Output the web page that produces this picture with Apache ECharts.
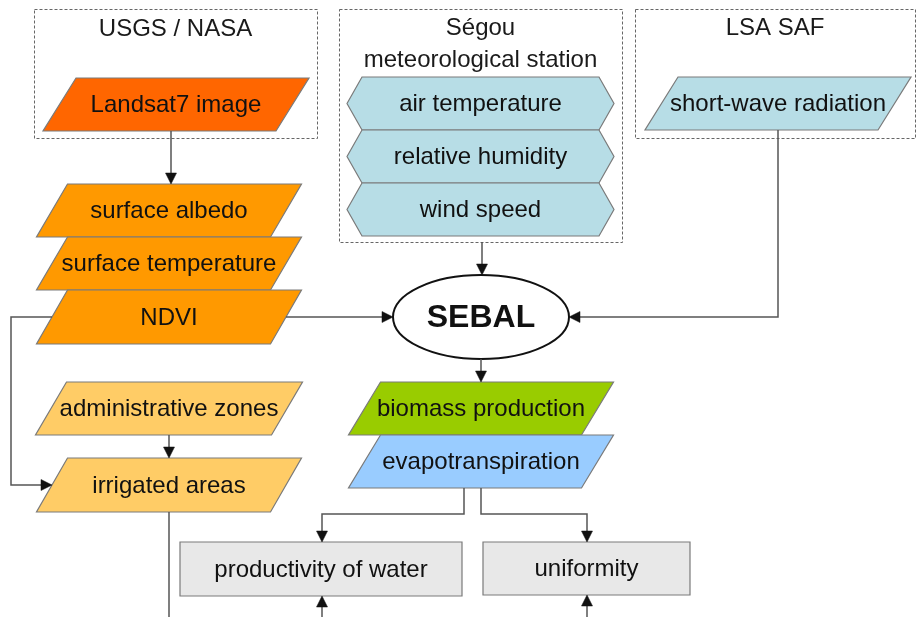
<!DOCTYPE html>
<html>
<head>
<meta charset="utf-8">
<script src="https://cdn.jsdelivr.net/npm/echarts@6/dist/echarts.min.js"></script>
<style>html,body{margin:0;padding:0;background:#fff;}#main{width:917px;height:617px;}</style>
</head>
<body>
<div id="main"></div>
<script>
// ---- data ----
const groupTitles = ['USGS / NASA', 'Ségou\nmeteorological station', 'LSA SAF'];
const nodeLabels = [
  'Landsat7 image', 'surface albedo', 'surface temperature', 'NDVI',
  'administrative zones', 'irrigated areas',
  'air temperature', 'relative humidity', 'wind speed',
  'short-wave radiation', 'SEBAL',
  'biomass production', 'evapotranspiration',
  'productivity of water', 'uniformity'
];
const nodeKinds = [
  'para', 'para', 'para', 'para',
  'para', 'para',
  'hex', 'hex', 'hex',
  'para', 'ellipse',
  'para', 'para',
  'rect', 'rect'
];
const links = [
  ['Landsat7 image', 'surface albedo'],
  ['Ségou\nmeteorological station', 'SEBAL'],
  ['short-wave radiation', 'SEBAL'],
  ['NDVI', 'SEBAL'],
  ['NDVI', 'irrigated areas'],
  ['administrative zones', 'irrigated areas'],
  ['SEBAL', 'biomass production'],
  ['evapotranspiration', 'productivity of water'],
  ['evapotranspiration', 'uniformity'],
  ['irrigated areas', ''],
  ['', 'productivity of water'],
  ['', 'uniformity']
];

// ---- layout (diagram units = canvas pixels via axes) ----
const groupLayout = [
  {x0: 34, y0: 9, x1: 317, y1: 138, ty: [29]},
  {x0: 339, y0: 9, x1: 622, y1: 242, ty: [28, 60]},
  {x0: 635, y0: 9, x1: 915, y1: 138, ty: [28]}
];
const nodeLayout = {
  'Landsat7 image':        {cx: 176, cy: 104.5, w: 233, h: 53, d: 33},
  'surface albedo':        {cx: 169, cy: 210.5, w: 234, h: 53, d: 31},
  'surface temperature':   {cx: 169, cy: 263.5, w: 234, h: 53, d: 31},
  'NDVI':                  {cx: 169, cy: 317, w: 234, h: 54, d: 31},
  'administrative zones':  {cx: 169, cy: 408.5, w: 236, h: 53, d: 31},
  'irrigated areas':       {cx: 169, cy: 485, w: 234, h: 54, d: 31},
  'air temperature':       {cx: 480.5, cy: 103.5, w: 267, h: 53, d: 15},
  'relative humidity':     {cx: 480.5, cy: 156.5, w: 267, h: 53, d: 15},
  'wind speed':            {cx: 480.5, cy: 209.5, w: 267, h: 53, d: 15},
  'short-wave radiation':  {cx: 778, cy: 103.5, w: 233, h: 53, d: 33},
  'SEBAL':                 {cx: 481, cy: 317, w: 176, h: 84},
  'biomass production':    {cx: 481, cy: 408.5, w: 233, h: 53, d: 32},
  'evapotranspiration':    {cx: 481, cy: 461.5, w: 233, h: 53, d: 32},
  'productivity of water': {cx: 321, cy: 569, w: 282, h: 54},
  'uniformity':            {cx: 586.5, cy: 568.5, w: 207, h: 53}
};
const nodeFill = {
  'Landsat7 image': '#ff6600',
  'surface albedo': '#ff9900', 'surface temperature': '#ff9900', 'NDVI': '#ff9900',
  'administrative zones': '#ffcc66', 'irrigated areas': '#ffcc66',
  'air temperature': '#b7dde6', 'relative humidity': '#b7dde6', 'wind speed': '#b7dde6',
  'short-wave radiation': '#b7dde6', 'SEBAL': '#ffffff',
  'biomass production': '#99cc00', 'evapotranspiration': '#99ccff',
  'productivity of water': '#e8e8e8', 'uniformity': '#e8e8e8'
};
const linkRoutes = [
  {pts: [[171, 131], [171, 184]], arrow: true},
  {pts: [[482, 242], [482, 275]], arrow: true},
  {pts: [[778, 130], [778, 317], [569, 317]], arrow: true},
  {pts: [[286, 317], [393, 317]], arrow: true},
  {pts: [[52, 317], [11, 317], [11, 485], [52, 485]], arrow: true},
  {pts: [[169, 435], [169, 458]], arrow: true},
  {pts: [[481, 359], [481, 382]], arrow: true},
  {pts: [[464, 488], [464, 514], [322, 514], [322, 542]], arrow: true},
  {pts: [[481, 488], [481, 514], [587, 514], [587, 542]], arrow: true},
  {pts: [[169, 512], [169, 617]], arrow: false},
  {pts: [[322, 617], [322, 596]], arrow: true},
  {pts: [[587, 617], [587, 595]], arrow: true}
];

const FONT = '"Liberation Sans", Arial, sans-serif';

const chart = echarts.init(document.getElementById('main'), null, {renderer: 'canvas'});

function nodeShape(kind, L, api) {
  const c = (x, y) => api.coord([x, y]);
  const x0 = L.cx - L.w / 2, x1 = L.cx + L.w / 2, y0 = L.cy - L.h / 2, y1 = L.cy + L.h / 2;
  if (kind === 'para') {
    const s = L.d / 2;
    return {type: 'polygon', shape: {points: [c(x0 + s, y0), c(x1 + s, y0), c(x1 - s, y1), c(x0 - s, y1)]}};
  }
  if (kind === 'hex') {
    return {type: 'polygon', shape: {points: [c(x0, L.cy), c(x0 + L.d, y0), c(x1 - L.d, y0), c(x1, L.cy), c(x1 - L.d, y1), c(x0 + L.d, y1)]}};
  }
  if (kind === 'ellipse') {
    const p = c(L.cx, L.cy), q = c(x1, y1);
    return {type: 'ellipse', shape: {cx: p[0], cy: p[1], rx: q[0] - p[0], ry: q[1] - p[1]}};
  }
  const a = c(x0, y0), b = c(x1, y1);
  return {type: 'rect', shape: {x: a[0], y: a[1], width: b[0] - a[0], height: b[1] - a[1]}};
}

const option = {
  animation: false,
  backgroundColor: '#ffffff',
  grid: {left: 0, right: 0, top: 0, bottom: 0},
  xAxis: {type: 'value', min: 0, max: 917, show: false},
  yAxis: {type: 'value', min: 0, max: 617, inverse: true, show: false},
  series: [
    {
      type: 'custom', z: 1, silent: true,
      data: groupTitles.map((t, i) => [i, 0]),
      renderItem: function (params, api) {
        const i = api.value(0);
        const G = groupLayout[i];
        const a = api.coord([G.x0, G.y0]), b = api.coord([G.x1, G.y1]);
        const lines = groupTitles[i].split('\n');
        const children = [{
          type: 'rect',
          shape: {x: a[0] + 0.5, y: a[1] + 0.5, width: b[0] - a[0], height: b[1] - a[1]},
          style: {fill: 'none', stroke: '#666', lineWidth: 1, lineDash: [3, 2]}
        }];
        lines.forEach((ln, k) => {
          const p = api.coord([(G.x0 + G.x1) / 2, G.ty[k]]);
          children.push({
            type: 'text',
            style: {text: ln, x: p[0], y: p[1], align: 'center', verticalAlign: 'middle',
              fontSize: 24, fontFamily: FONT, fill: '#1a1a1a'}
          });
        });
        return {type: 'group', children: children};
      }
    },
    {
      type: 'custom', z: 2, silent: true,
      data: nodeLabels.map((t, i) => [i, 0]),
      renderItem: function (params, api) {
        const i = api.value(0);
        const name = nodeLabels[i];
        const kind = nodeKinds[i];
        const L = nodeLayout[name];
        const sh = nodeShape(kind, L, api);
        sh.style = kind === 'ellipse'
          ? {fill: nodeFill[name], stroke: '#111', lineWidth: 2}
          : {fill: nodeFill[name], stroke: '#7a7a7a', lineWidth: 1.2};
        const p = api.coord([L.cx, L.cy]);
        return {
          type: 'group',
          children: [sh, {
            type: 'text',
            style: {text: name, x: p[0], y: p[1] + 1, align: 'center', verticalAlign: 'middle',
              fontSize: kind === 'ellipse' ? 32 : 24, fontWeight: kind === 'ellipse' ? 'bold' : 'normal',
              fontFamily: FONT, fill: '#111'}
          }]
        };
      }
    },
    {
      type: 'custom', z: 3, silent: true,
      data: links.map((l, i) => [i, 0]),
      renderItem: function (params, api) {
        const i = api.value(0);
        const R = linkRoutes[i];
        const pts = R.pts.map(p => api.coord(p));
        const children = [];
        const n = pts.length;
        let linePts = pts.slice();
        if (R.arrow) {
          const tip = pts[n - 1], prev = pts[n - 2];
          const dx = tip[0] - prev[0], dy = tip[1] - prev[1];
          const len = Math.sqrt(dx * dx + dy * dy);
          const ux = dx / len, uy = dy / len;
          const AL = 11, AW = 5.5;
          const bx = tip[0] - ux * AL, by = tip[1] - uy * AL;
          linePts[n - 1] = [bx, by];
          children.push({
            type: 'polygon',
            shape: {points: [tip, [bx - uy * AW, by + ux * AW], [bx + uy * AW, by - ux * AW]]},
            style: {fill: '#111', stroke: '#111', lineWidth: 0.5}
          });
        }
        children.unshift({
          type: 'polyline',
          shape: {points: linePts},
          style: {fill: null, stroke: '#555', lineWidth: 1.5}
        });
        return {type: 'group', children: children};
      }
    }
  ]
};
chart.setOption(option);
</script>
</body>
</html>
